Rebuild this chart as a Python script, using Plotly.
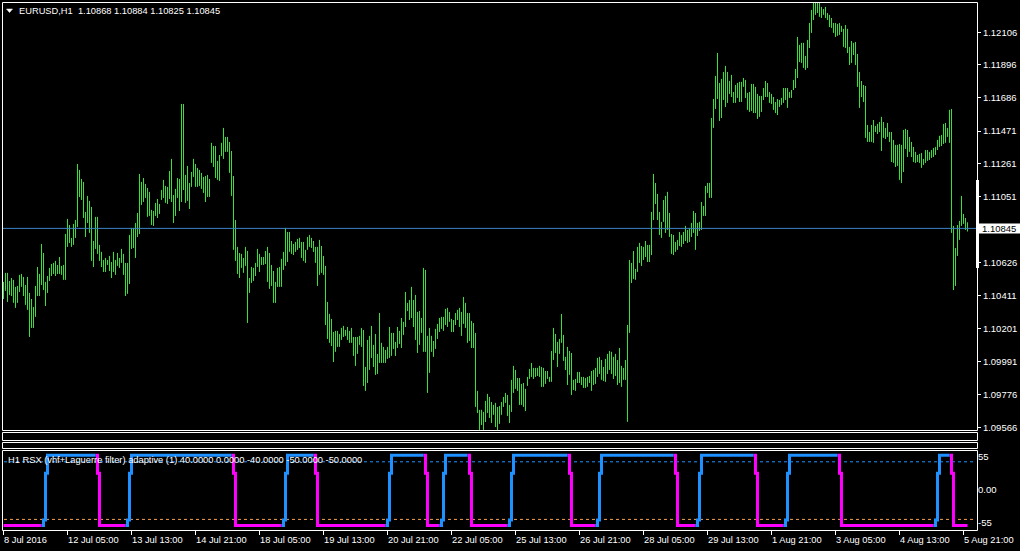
import plotly.graph_objects as go

W, H = 1020, 551
FONT = "Liberation Sans, Arial, sans-serif"

# ---------------- data ----------------
BASE = 1.09  # prices stored as points (1e-5) above 1.09000
bar_high_pts = [
 1501,1559,1559,1507,1526,1514,1469,1475,1546,1552, 1533,1481,1533,1430,1391,1340,1475,1597,1552,1745,
 1687,1501,1539,1591,1616,1623,1636,1610,1661,1604, 1610,1809,1906,1867,1784,1874,1899,2259,2221,2163,
 2144,1951,2054,2022,1983,1764,1919,1919,1739,1694, 1642,1655,1642,1668,1629,1694,1642,1687,1655,1713,
 1681,1623,1623,1803,1848,1848,1880,1944,2195,2144, 2169,2131,2105,2080,1964,1957,2009,2034,2002,2092,
 2157,2118,2112,2214,2292,2060,2099,2169,2163,2645, 2645,2189,2247,2137,2208,2292,2259,2234,2221,2202,
 2176,2182,2189,2163,2395,2375,2375,2279,2317,2395, 2491,2433,2433,2401,2343,2182,1899,1726,1687,1681,
 1655,1726,1700,1526,1597,1591,1623,1713,1681,1661, 1661,1700,1726,1687,1610,1571,1501,1591,1597,1649,
 1694,1848,1822,1822,1764,1745,1758,1777,1784,1758, 1758,1707,1790,1803,1784,1764,1726,1726,1771,1732,
 1668,1604,1372,1295,1263,1179,1186,1186,1166,1205, 1218,1192,1211,1186,1205,1147,1147,1147,1154,1205,
 1192,954,1128,1154,1218,1096,1166,1038,1301,1109, 1083,1063,1083,1211,1173,1173,1115,1211,1186,1269,
 1244,1436,1366,1385,1469,1385,1417,1308,1314,1269, 1591,1578,1154,1205,1154,1121,1199,1231,1269,1276,
 1276,1327,1334,1308,1263,1256,1301,1321,1334,1308, 1404,1366,1301,1301,1250,1237,1173,800,678,678,
 665,736,781,761,729,710,723,697,703,729, 761,787,774,710,871,961,935,883,883,845,
 851,813,890,941,980,948,948,948,961,954, 948,928,928,890,1057,1205,1166,1115,1134,1295,
 1160,1019,1083,1057,1044,871,877,922,922,890, 890,883,890,896,928,935,948,1012,1019,999,
 954,1006,1038,1057,1051,1019,1038,999,1076,961, 948,999,1224,1642,1623,1700,1584,1726,1752,1732,
 1726,1764,1739,1739,1951,2195,2137,2067,1951,1887, 2028,2054,2080,1944,1809,1803,1758,1771,1822,1803,
 1822,1861,1835,1848,1880,1957,1944,1880,1887,2015, 1989,2118,2137,2137,2555,2677,2825,2973,2780,2806,
 2851,2890,2851,2793,2832,2722,2767,2780,2787,2787, 2812,2800,2716,2722,2774,2774,2755,2710,2697,2697,
 2748,2793,2780,2722,2710,2690,2658,2677,2671,2684, 2748,2748,2748,2722,2735,2800,2870,3076,3025,3038,
 3038,2954,3057,3166,3250,3295,3295,3295,3295,3269, 3256,3269,3230,3218,3198,3166,3166,3160,3166,3147,
 3128,3153,3128,3012,3050,3038,3044,2967,2851,2793, 2767,2761,2510,2465,2510,2542,2504,2517,2529,2562,
 2529,2491,2523,2465,2465,2414,2382,2382,2388,2382, 2478,2485,2478,2433,2401,2369,2337,2317,2324,2330,
 2292,2349,2349,2337,2349,2362,2369,2414,2440,2446, 2517,2523,2491,2607,2613,1861,1719,1867,1893,2054,
 1938,1912,1884,
]
bar_low_pts = [
 1391,1443,1372,1417,1410,1366,1334,1366,1436,1469, 1410,1353,1321,1147,1205,1205,1276,1410,1410,1481,
 1449,1346,1430,1507,1539,1552,1539,1552,1552,1546, 1514,1514,1726,1751,1726,1739,1784,1854,2047,2028,
 1912,1790,1880,1816,1636,1597,1713,1681,1636,1597, 1565,1565,1610,1571,1526,1565,1546,1604,1591,1623,
 1546,1410,1424,1488,1713,1719,1655,1790,1809,1996, 2015,2041,1919,1925,1867,1861,1925,1912,1938,2028,
 2041,2009,2002,2034,2015,1880,1925,2041,1957,2015, 2092,2009,2022,1970,2112,2176,2112,2112,2118,2099,
 2073,2015,2047,2047,2266,2240,2169,2157,2150,2311, 2292,2337,2337,2202,2054,1707,1636,1552,1526,1591,
 1559,1604,1237,1430,1494,1507,1539,1597,1565,1610, 1610,1616,1501,1456,1475,1366,1366,1469,1469,1469,
 1578,1604,1629,1694,1681,1674,1694,1707,1719,1655, 1636,1623,1707,1726,1719,1694,1623,1475,1546,1559,
 1546,1224,1134,1109,1089,986,1051,1083,1083,1128, 1147,1154,1128,1109,1109,1025,961,1038,1096,1083,
 832,800,851,935,1012,954,903,909,980,980, 980,980,1006,1012,1025,1070,1025,1076,1102,1076,
 1160,1211,1314,1256,1269,1211,1128,1044,1096,1173, 1051,1051,787,916,1051,1019,1070,1134,1179,1199,
 1186,1224,1211,1244,1179,1179,1224,1256,1211,1154, 1231,1205,1109,1121,1076,1076,697,658,549,581,
 549,600,658,626,594,646,568,549,588,646, 697,723,639,594,665,787,813,800,710,710,
 697,671,832,877,890,877,890,896,890,826, 826,845,877,858,858,999,1044,954,1038,1109,
 993,935,838,903,774,806,800,851,851,838, 819,819,826,851,800,838,845,890,909,871,
 864,858,909,935,909,877,896,838,851,826, 871,871,601,1173,1494,1520,1514,1565,1623,1604,
 1642,1661,1629,1629,1674,1899,2002,1899,1803,1784, 1887,1816,1835,1790,1681,1674,1694,1707,1732,1726,
 1745,1764,1752,1758,1790,1816,1707,1796,1829,1835, 1925,1925,2073,2041,2041,2491,2613,2677,2536,2555,
 2671,2626,2652,2710,2690,2652,2652,2684,2658,2658, 2755,2684,2607,2594,2600,2587,2587,2549,2562,2594,
 2671,2690,2690,2652,2645,2607,2587,2574,2626,2639, 2652,2671,2620,2684,2684,2735,2748,2812,2915,2909,
 2877,2864,2877,3005,3102,3185,3218,3230,3205,3198, 3218,3198,3185,3140,3134,3102,3076,3083,3089,3108,
 3012,3005,2973,2896,2909,2960,2896,2755,2620,2690, 2658,2427,2401,2401,2401,2395,2465,2452,2465,2343,
 2427,2420,2433,2401,2272,2266,2240,2247,2157,2137, 2208,2356,2304,2337,2304,2272,2266,2272,2266,2234,
 2253,2266,2279,2285,2298,2304,2317,2349,2369,2375, 2388,2395,2433,2395,1816,1449,1475,1668,1771,1861,
 1874,1835,1825,
]
bar_high = [BASE + v / 1e5 for v in bar_high_pts]
bar_low = [BASE + v / 1e5 for v in bar_low_pts]

symbol_text = "EURUSD,H1\u00a0 1.10868 1.10884 1.10825 1.10845"
bid_price = 1.10845
price_tick_vals = [1.12106, 1.11896, 1.11686, 1.11471, 1.11261, 1.11051,
                   1.10626, 1.10411, 1.10201, 1.09991, 1.09776, 1.09566]

time_tick_index = [0, 32, 64, 96, 128, 160, 192, 224, 256, 288, 320, 352, 384, 416, 448, 480]
time_tick_text = ["8 Jul 2016", "12 Jul 05:00", "13 Jul 13:00", "14 Jul 21:00", "18 Jul 05:00",
                  "19 Jul 13:00", "20 Jul 21:00", "22 Jul 05:00", "25 Jul 13:00", "26 Jul 21:00",
                  "28 Jul 05:00", "29 Jul 13:00", "1 Aug 21:00", "3 Aug 05:00", "4 Aug 13:00",
                  "5 Aug 21:00"]

# RSX indicator as (value, number of bars) runs
rsx_runs = [(-59, 20), (-50, 1), (28, 1), (58, 25),
            (28, 1), (-59, 14), (-50, 1), (28, 1), (58, 51),
            (28, 1), (-59, 24), (-50, 1), (28, 1), (58, 14),
            (28, 1), (-59, 35), (-50, 1), (28, 1), (58, 17),
            (28, 1), (-59, 7), (-50, 1), (28, 1), (58, 12),
            (28, 1), (-59, 19), (-50, 1), (28, 1), (58, 28),
            (28, 1), (-59, 13), (-50, 1), (28, 1), (58, 37),
            (28, 1), (-59, 10), (-50, 1), (28, 1), (58, 27),
            (28, 1), (-59, 14), (-50, 1), (28, 1), (58, 25),
            (28, 1), (-59, 47), (-50, 1), (28, 1), (58, 6),
            (28, 1), (-59, 8)]
rsx_label = "H1 RSX (vhf+Laguerre filter) adaptive (1) 40.0000 0.0000 -40.0000 -50.0000 -50.0000"
rsx_tick_vals = [55, 0, -55]
rsx_tick_text = ["55", "0.00", "-55"]
rsx_level_hi = 47
rsx_level_lo = -49

# ---------------- helpers ----------------
def px(x):
    return x / W

def py(y):
    return 1 - y / H

n = len(bar_high)
rsx = []
for v, c in rsx_runs:
    rsx += [v] * c

# ---------------- figure ----------------
fig = go.Figure()

bx, by = [], []
for i in range(n):
    bx += [i, i, None]
    by += [bar_low[i], bar_high[i], None]
fig.add_trace(go.Scatter(x=bx, y=by, mode="lines", line=dict(color="#3ae03a", width=1),
                         hoverinfo="skip", showlegend=False, xaxis="x", yaxis="y"))

# split RSX into up (blue) / down (magenta) parts
state = "down"
segs = {"up": ([], []), "down": ([], [])}
last = {"up": None, "down": None}
for i in range(1, len(rsx)):
    d = rsx[i] - rsx[i - 1]
    if d > 0:
        state = "up"
    elif d < 0:
        state = "down"
    xs, ys = segs[state]
    if last[state] != i - 1:
        if xs:
            xs.append(None); ys.append(None)
        xs.append(i - 1); ys.append(rsx[i - 1])
    xs.append(i); ys.append(rsx[i])
    last[state] = i

for st, col in (("down", "#ff00ff"), ("up", "#1e90ff")):
    xs, ys = segs[st]
    fig.add_trace(go.Scatter(x=xs, y=ys, mode="lines", line=dict(color=col, width=3, shape="hv"),
                             hoverinfo="skip", showlegend=False, xaxis="x2", yaxis="y2"))

xr = [-0.75, 486.75]
fig.update_layout(
    width=W, height=H,
    margin=dict(l=0, r=0, t=0, b=0),
    paper_bgcolor="black", plot_bgcolor="black",
    font=dict(family=FONT, size=9.3, color="white"),
    xaxis=dict(domain=[px(2), px(977)], range=xr, anchor="y", showgrid=False, zeroline=False,
               showticklabels=False, ticks="", showline=False),
    yaxis=dict(domain=[py(430), py(2)], range=[1.095486, 1.123008], side="right", anchor="x",
               showgrid=False, zeroline=False, showline=False, ticks="outside", ticklen=3,
               tickcolor="white", tickvals=price_tick_vals,
               ticktext=[f"{v:.5f}" for v in price_tick_vals],
               tickfont=dict(family=FONT, size=9.5, color="white"), automargin=False),
    xaxis2=dict(domain=[px(2), px(977)], range=xr, anchor="y2", showgrid=False, zeroline=False,
                showticklabels=False, ticks="outside", ticklen=4, tickcolor="white",
                tickvals=time_tick_index, showline=False),
    yaxis2=dict(domain=[py(530), py(450)], range=[-66.67, 66.67], side="right", anchor="x2",
                showgrid=False, zeroline=False, showline=False, ticks="",
                tickvals=rsx_tick_vals, ticktext=rsx_tick_text,
                tickfont=dict(family=FONT, size=9.5, color="white"), automargin=False),
    showlegend=False,
)

shapes = []
def box(x0, y0, x1, y1):
    shapes.append(dict(type="rect", xref="paper", yref="paper", x0=px(x0), x1=px(x1),
                       y0=py(y1), y1=py(y0), line=dict(color="white", width=1)))

# level lines in indicator
shapes.append(dict(type="line", xref="paper", yref="y2", x0=px(4), x1=px(975),
                   y0=rsx_level_hi, y1=rsx_level_hi, line=dict(color="#1e90ff", width=1, dash="dot"),
                   layer="below"))
shapes.append(dict(type="line", xref="paper", yref="y2", x0=px(4), x1=px(975),
                   y0=rsx_level_lo, y1=rsx_level_lo, line=dict(color="#f5a050", width=1, dash="dot"),
                   layer="below"))
# bid line
shapes.append(dict(type="line", xref="paper", yref="y", x0=px(2.5), x1=px(977.5),
                   y0=bid_price, y1=bid_price, line=dict(color="#3d85c6", width=1)))
# panel frames
box(2.5, 2.5, 977.5, 430.5)
box(2.5, 432.5, 977.5, 440.5)
box(2.5, 442.5, 977.5, 448.5)
box(2.5, 450.5, 977.5, 530.5)
# white marker on price scale
shapes.append(dict(type="rect", xref="paper", yref="paper", x0=px(976), x1=px(979),
                   y0=py(268), y1=py(180), fillcolor="white", line=dict(width=0)))
# bid price label box
shapes.append(dict(type="rect", xref="paper", yref="paper", x0=px(978), x1=px(1020),
                   y0=py(233.5), y1=py(223.5), fillcolor="white", line=dict(width=0)))
# small triangle in the header
shapes.append(dict(type="path", xref="paper", yref="paper",
                   path=f"M {px(6.5)},{py(9)} L {px(12.5)},{py(9)} L {px(9.5)},{py(12.5)} Z",
                   fillcolor="white", line=dict(color="white", width=0.5)))
fig.update_layout(shapes=shapes)

ann = [
    dict(text=symbol_text, xref="paper", yref="paper", x=px(17), y=py(10.5), xanchor="left",
         yanchor="middle", showarrow=False, font=dict(family=FONT, size=9.3, color="white")),
    dict(text=rsx_label, xref="paper", yref="paper", x=px(6), y=py(459.5), xanchor="left",
         yanchor="middle", showarrow=False, font=dict(family=FONT, size=9.3, color="white")),
    dict(text=f"{bid_price:.5f}", xref="paper", yref="paper", x=px(980), y=py(228.5),
         xanchor="left", yanchor="middle", showarrow=False,
         font=dict(family=FONT, size=9.5, color="black")),
]
for idx, txt in zip(time_tick_index, time_tick_text):
    ann.append(dict(text=txt, xref="x2", yref="paper", x=idx, y=py(540), xanchor="left",
                    yanchor="middle", showarrow=False, xshift=-2,
                    font=dict(family=FONT, size=9.3, color="white")))
fig.update_layout(annotations=ann)

fig.write_html("out.html", config={"displayModeBar": False},
               post_script="document.body.style.margin='0';")
